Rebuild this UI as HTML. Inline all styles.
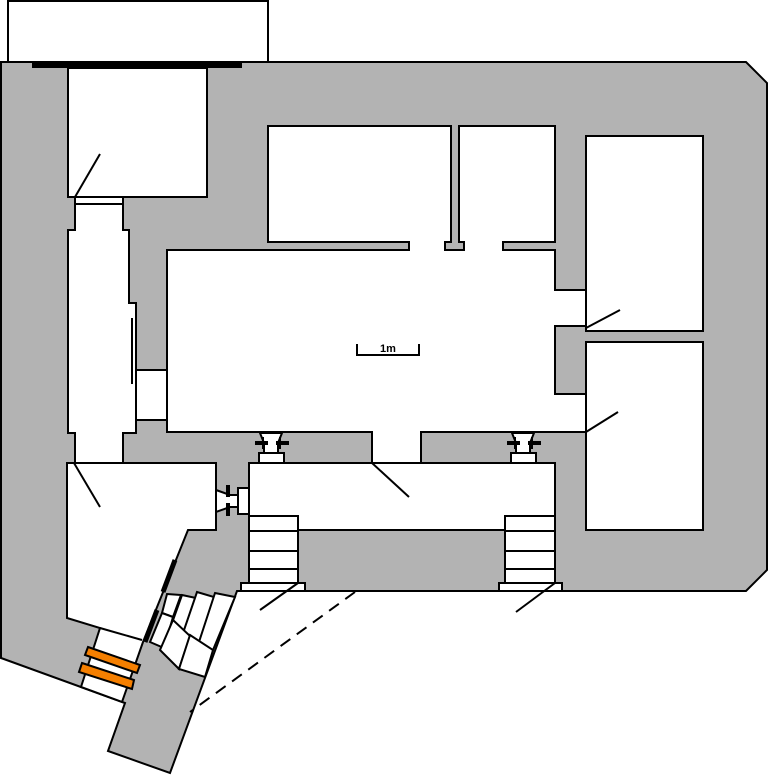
<!DOCTYPE html>
<html><head><meta charset="utf-8"><style>html,body{margin:0;padding:0;background:#fff}svg{display:block}</style></head>
<body>
<svg width="768" height="776" viewBox="0 0 768 776" xmlns="http://www.w3.org/2000/svg">
<g stroke="#000" stroke-width="2" stroke-linejoin="miter">
<rect x="8" y="1" width="260" height="61" fill="#fff"/>
<polygon fill="#b3b3b3" points="1,62 746,62 767,83 767,570 746,591 237,591 170,773 108,751 125,703 1,658"/>
<rect x="32" y="62" width="210" height="6" fill="#000" stroke="none"/>
<!-- top left room -->
<rect x="68" y="68" width="139" height="129" fill="#fff"/>
<rect x="75" y="197" width="48" height="7" fill="#fff"/>
<polygon fill="#fff" points="75,204 123,204 123,230 129,230 129,303 136,303 136,433 123,433 123,464 75,464 75,433 68,433 68,230 75,230"/>
<rect x="136" y="370" width="31" height="50" fill="#fff"/>
<!-- big room + top rooms -->
<polygon fill="#fff" points="167,250 409,250 409,242 268,242 268,126 451,126 451,242 445,242 445,250 464,250 464,242 459,242 459,126 555,126 555,242 503,242 503,250 555,250 555,290 586,290 586,326 555,326 555,394 586,394 586,432 421,432 421,463 372,463 372,432 167,432"/>
<rect x="586" y="136" width="117" height="195" fill="#fff"/>
<rect x="586" y="342" width="117" height="188" fill="#fff"/>
<!-- lower room -->
<rect x="249" y="463" width="306" height="67" fill="#fff"/>
<rect x="249" y="516" width="49" height="67" fill="#fff"/>
<rect x="505" y="516" width="50" height="67" fill="#fff"/>
<rect x="241" y="583" width="64" height="8" fill="#fff"/>
<rect x="499" y="583" width="63" height="8" fill="#fff"/>
<!-- bottom-left room -->
<polygon fill="#fff" points="67,463 216,463 216,530 188,530 143,642 122,702 81,687 100,628 67,618"/>
<line x1="100" y1="628" x2="142" y2="640"/>
<!-- wing boxes -->
<polygon fill="#fff" points="167,594 181,595 173,617 162,613"/>
<polygon fill="#fff" points="182,595 196,598 185,633 172,623"/>
<polygon fill="#fff" points="197,592 214,597 200,643 183,633"/>
<polygon fill="#fff" points="215,593 235,597 213,650 198,645"/>
<polygon fill="#fff" points="162,613 173,617 164,648 150,642"/>
<polygon fill="#fff" points="173,620 190,636 179,669 160,650"/>
<polygon fill="#fff" points="190,635 213,650 205,677 179,669"/>
<!-- orange bars -->
<polygon fill="#f57f00" points="88,647 140,665 137,673 85,655"/>
<polygon fill="#f57f00" points="82,663 134,680 132,689 79,672"/>
<!-- fixtures -->
<polygon fill="#fff" points="260,433 282,433 278,443 278,453 264,453 264,443"/>
<rect x="259" y="453" width="25" height="10" fill="#fff"/>
<polygon fill="#fff" points="512,433 534,433 530,443 530,453 516,453 516,443"/>
<rect x="511" y="453" width="25" height="10" fill="#fff"/>
<polygon fill="#fff" points="216,490 230,495 238,495 238,507 230,507 216,512"/>
<rect x="238" y="488" width="11" height="26" fill="#fff"/>
</g>
<g stroke="#000" stroke-width="4">
<line x1="255" y1="443" x2="268" y2="443"/><line x1="276" y1="443" x2="289" y2="443"/>
<line x1="507" y1="443" x2="520" y2="443"/><line x1="528" y1="443" x2="541" y2="443"/>
<line x1="228" y1="485" x2="228" y2="497"/><line x1="228" y1="503" x2="228" y2="516"/>
<line x1="163" y1="592" x2="175" y2="560" stroke-width="5"/>
<line x1="145" y1="642" x2="157" y2="610" stroke-width="5"/>
</g>
<g stroke="#000" stroke-width="2" fill="none">
<line x1="263" y1="437" x2="263" y2="449"/><line x1="280" y1="437" x2="280" y2="449"/>
<line x1="515" y1="437" x2="515" y2="449"/><line x1="532" y1="437" x2="532" y2="449"/>
<line x1="249" y1="531" x2="298" y2="531"/><line x1="249" y1="551" x2="298" y2="551"/><line x1="249" y1="569" x2="298" y2="569"/>
<line x1="505" y1="531" x2="555" y2="531"/><line x1="505" y1="551" x2="555" y2="551"/><line x1="505" y1="569" x2="555" y2="569"/>
<line x1="132" y1="318" x2="132" y2="384"/>
<line x1="75" y1="197" x2="100" y2="154"/>
<line x1="74" y1="463" x2="100" y2="507"/>
<line x1="372" y1="463" x2="409" y2="497"/>
<line x1="586" y1="328" x2="620" y2="310"/>
<line x1="586" y1="432" x2="618" y2="412"/>
<line x1="260" y1="610" x2="298" y2="583"/>
<line x1="516" y1="612" x2="555" y2="583"/>
<line x1="355" y1="592" x2="190" y2="712" stroke-dasharray="12,8"/>
<polyline points="357,344 357,355 419,355 419,344"/>
</g>
<text x="388" y="352" font-family="Liberation Sans, sans-serif" font-size="11" font-weight="bold" text-anchor="middle">1m</text>
</svg>
</body></html>
